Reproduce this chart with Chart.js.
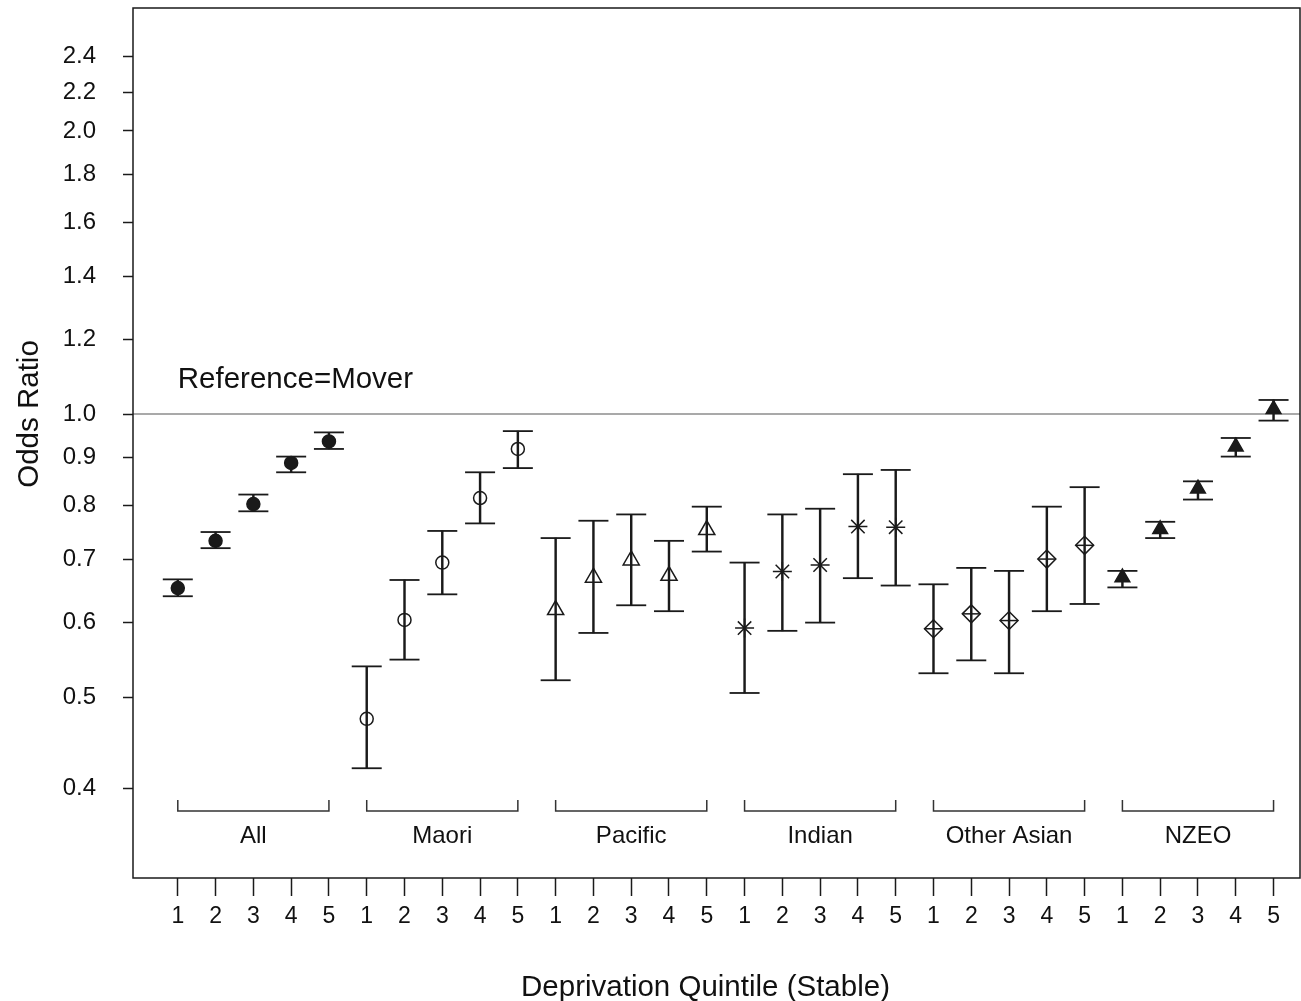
<!DOCTYPE html>
<html>
<head>
<meta charset="utf-8">
<script src="https://cdn.jsdelivr.net/npm/chart.js@4.4.1/dist/chart.umd.min.js"></script>
<style>
html,body{margin:0;padding:0;background:#fff;}
#wrap{width:1301px;height:1001px;position:relative;}
canvas{display:block;}
</style>
</head>
<body>
<div id="wrap"><canvas id="c" width="1301" height="1001"></canvas></div>
<script>
// ---- data ----
const groups = ['All', 'Maori', 'Pacific', 'Indian', 'Other Asian', 'NZEO'];
const quintileLabels = ['1', '2', '3', '4', '5'];
const yTickValues = [0.4, 0.5, 0.6, 0.7, 0.8, 0.9, 1.0, 1.2, 1.4, 1.6, 1.8, 2.0, 2.2, 2.4];
const referenceValue = 1.0;
const referenceLabel = 'Reference=Mover';
const xTitle = 'Deprivation Quintile (Stable)';
const yTitle = 'Odds Ratio';

const orAll   = [0.653, 0.733, 0.802, 0.887, 0.935];
const loAll   = [0.640, 0.720, 0.788, 0.867, 0.918];
const hiAll   = [0.667, 0.749, 0.821, 0.901, 0.956];

const orMaori = [0.474, 0.604, 0.695, 0.814, 0.918];
const loMaori = [0.420, 0.548, 0.643, 0.765, 0.876];
const hiMaori = [0.539, 0.666, 0.751, 0.867, 0.959];

const orPacific = [0.619, 0.670, 0.699, 0.673, 0.753];
const loPacific = [0.521, 0.585, 0.626, 0.617, 0.714];
const hiPacific = [0.738, 0.770, 0.782, 0.733, 0.797];

const orIndian = [0.592, 0.680, 0.691, 0.759, 0.758];
const loIndian = [0.505, 0.588, 0.600, 0.669, 0.657];
const hiIndian = [0.695, 0.782, 0.793, 0.863, 0.872];

const orOtherAsian = [0.591, 0.613, 0.603, 0.701, 0.725];
const loOtherAsian = [0.530, 0.547, 0.530, 0.617, 0.628];
const hiOtherAsian = [0.659, 0.686, 0.681, 0.797, 0.836];

const orNZEO = [0.670, 0.754, 0.833, 0.923, 1.012];
const loNZEO = [0.654, 0.738, 0.811, 0.901, 0.984];
const hiNZEO = [0.681, 0.768, 0.848, 0.943, 1.035];

const orSeries = [orAll, orMaori, orPacific, orIndian, orOtherAsian, orNZEO];
const loSeries = [loAll, loMaori, loPacific, loIndian, loOtherAsian, loNZEO];
const hiSeries = [hiAll, hiMaori, hiPacific, hiIndian, hiOtherAsian, hiNZEO];

// ---- derived structures ----
const pos = (g, q) => g * quintileLabels.length + q + 1;
const positions = [];
const barData = [];
const capData = [];
groups.forEach((g, gi) => {
  quintileLabels.forEach((q, qi) => {
    const x = pos(gi, qi);
    positions.push(x);
    barData.push({x: x, y: [loSeries[gi][qi], hiSeries[gi][qi]]});
    capData.push({x: x, y: loSeries[gi][qi]});
    capData.push({x: x, y: hiSeries[gi][qi]});
  });
});
const pointsFor = gi => orSeries[gi].map((v, qi) => ({x: pos(gi, qi), y: v}));

const INK = '#1a1a1a';
const FONT = "'Liberation Sans', Arial, sans-serif";

const markerBase = {type: 'scatter', showLine: false, order: 1, clip: false, pointBorderColor: INK, borderColor: INK};

const datasets = [
  {type: 'bar', data: barData, backgroundColor: INK, borderWidth: 0, barThickness: 1.8, order: 4, grouped: false},
  {type: 'scatter', data: capData, showLine: false, clip: false, pointStyle: 'line', pointRadius: 15,
   pointBorderWidth: 1.8, pointBorderColor: INK, borderColor: INK, order: 3},
  Object.assign({}, markerBase, {data: pointsFor(0), pointStyle: 'circle', pointRadius: 6.5,
   pointBorderWidth: 1.5, pointBackgroundColor: INK}),
  Object.assign({}, markerBase, {data: pointsFor(1), pointStyle: 'circle', pointRadius: 6.5,
   pointBorderWidth: 1.5, pointBackgroundColor: 'rgba(0,0,0,0)'}),
  Object.assign({}, markerBase, {data: pointsFor(2), pointStyle: 'triangle', pointRadius: 9.3,
   pointBorderWidth: 1.5, pointBackgroundColor: 'rgba(0,0,0,0)'}),
  Object.assign({}, markerBase, {data: pointsFor(3), pointStyle: 'star', pointRadius: 9.5,
   pointBorderWidth: 1.5, pointBackgroundColor: 'rgba(0,0,0,0)'}),
  Object.assign({}, markerBase, {data: pointsFor(4), pointStyle: 'rectRot', pointRadius: 9,
   pointBorderWidth: 1.5, pointBackgroundColor: 'rgba(0,0,0,0)'}),
  Object.assign({}, markerBase, {data: pointsFor(4), pointStyle: 'line', pointRadius: 9,
   pointBorderWidth: 1.5}),
  Object.assign({}, markerBase, {data: pointsFor(5), pointStyle: 'triangle', pointRadius: 8.5,
   pointBorderWidth: 1.5, pointBackgroundColor: INK})
];

const decor = {
  id: 'decor',
  beforeDatasetsDraw(chart) {
    const {ctx, chartArea: a, scales: {y}} = chart;
    const yr = y.getPixelForValue(referenceValue);
    ctx.save();
    ctx.strokeStyle = '#8c8c8c';
    ctx.lineWidth = 1.5;
    ctx.beginPath();
    ctx.moveTo(a.left, yr);
    ctx.lineTo(a.right, yr);
    ctx.stroke();
    ctx.restore();
  },
  afterDraw(chart) {
    const {ctx, chartArea: a, scales: {x, y}} = chart;
    ctx.save();
    // box
    ctx.strokeStyle = INK;
    ctx.lineWidth = 1.5;
    ctx.strokeRect(a.left, a.top, a.right - a.left, a.bottom - a.top);
    // group brackets and labels
    ctx.lineWidth = 1.5;
    ctx.strokeStyle = '#333';
    ctx.fillStyle = '#111';
    ctx.font = '24px ' + FONT;
    ctx.textAlign = 'center';
    ctx.textBaseline = 'alphabetic';
    const yb = a.bottom - 67;
    groups.forEach((g, gi) => {
      const x1 = x.getPixelForValue(pos(gi, 0));
      const x2 = x.getPixelForValue(pos(gi, quintileLabels.length - 1));
      ctx.beginPath();
      ctx.moveTo(x1, yb - 11);
      ctx.lineTo(x1, yb);
      ctx.lineTo(x2, yb);
      ctx.lineTo(x2, yb - 11);
      ctx.stroke();
      ctx.fillText(g, x.getPixelForValue(pos(gi, 2)), a.bottom - 35);
    });
    // reference label
    ctx.font = '29.5px ' + FONT;
    ctx.textAlign = 'left';
    ctx.fillText(referenceLabel, x.getPixelForValue(pos(0, 0)), y.getPixelForValue(referenceValue) - 26);
    // x title
    ctx.textAlign = 'center';
    ctx.fillText(xTitle, 705.5, chart.height - 5);
    // y title
    ctx.translate(38, 414);
    ctx.rotate(-Math.PI / 2);
    ctx.fillText(yTitle, 0, 0);
    ctx.restore();
  }
};

const zeroPad = s => { s.paddingTop = 0; s.paddingBottom = 0; s.paddingLeft = 0; s.paddingRight = 0; };

new Chart(document.getElementById('c'), {
  type: 'scatter',
  data: {datasets: datasets},
  options: {
    responsive: false,
    animation: false,
    devicePixelRatio: 1,
    events: [],
    layout: {autoPadding: false, padding: {left: 0, right: 1, top: 8, bottom: 0}},
    plugins: {legend: {display: false}, tooltip: {enabled: false}},
    scales: {
      x: {
        type: 'linear', min: -0.1856, max: 30.70, bounds: 'data', offset: false,
        afterBuildTicks: s => { s.ticks = positions.map(v => ({value: v})); },
        afterFit: s => { s.height = 123; zeroPad(s); },
        ticks: {autoSkip: false, maxRotation: 0, padding: 7, color: '#111',
          font: {family: FONT, size: 23},
          callback: v => quintileLabels[(Math.round(v) - 1) % quintileLabels.length]},
        grid: {offset: false, drawOnChartArea: false, drawTicks: true, tickLength: 18, tickColor: INK, tickWidth: 1.5},
        border: {display: false}
      },
      y: {
        type: 'logarithmic', min: 0.321, max: 2.703, bounds: 'data',
        afterBuildTicks: s => { s.ticks = yTickValues.map(v => ({value: v})); },
        afterFit: s => { s.width = 133; zeroPad(s); },
        ticks: {autoSkip: false, padding: 27, color: '#111',
          font: {family: FONT, size: 24},
          callback: v => Number(v).toFixed(1)},
        grid: {offset: false, drawOnChartArea: false, drawTicks: true, tickLength: 10, tickColor: INK, tickWidth: 1.5},
        border: {display: false}
      }
    }
  },
  plugins: [decor]
});
</script>
</body>
</html>
